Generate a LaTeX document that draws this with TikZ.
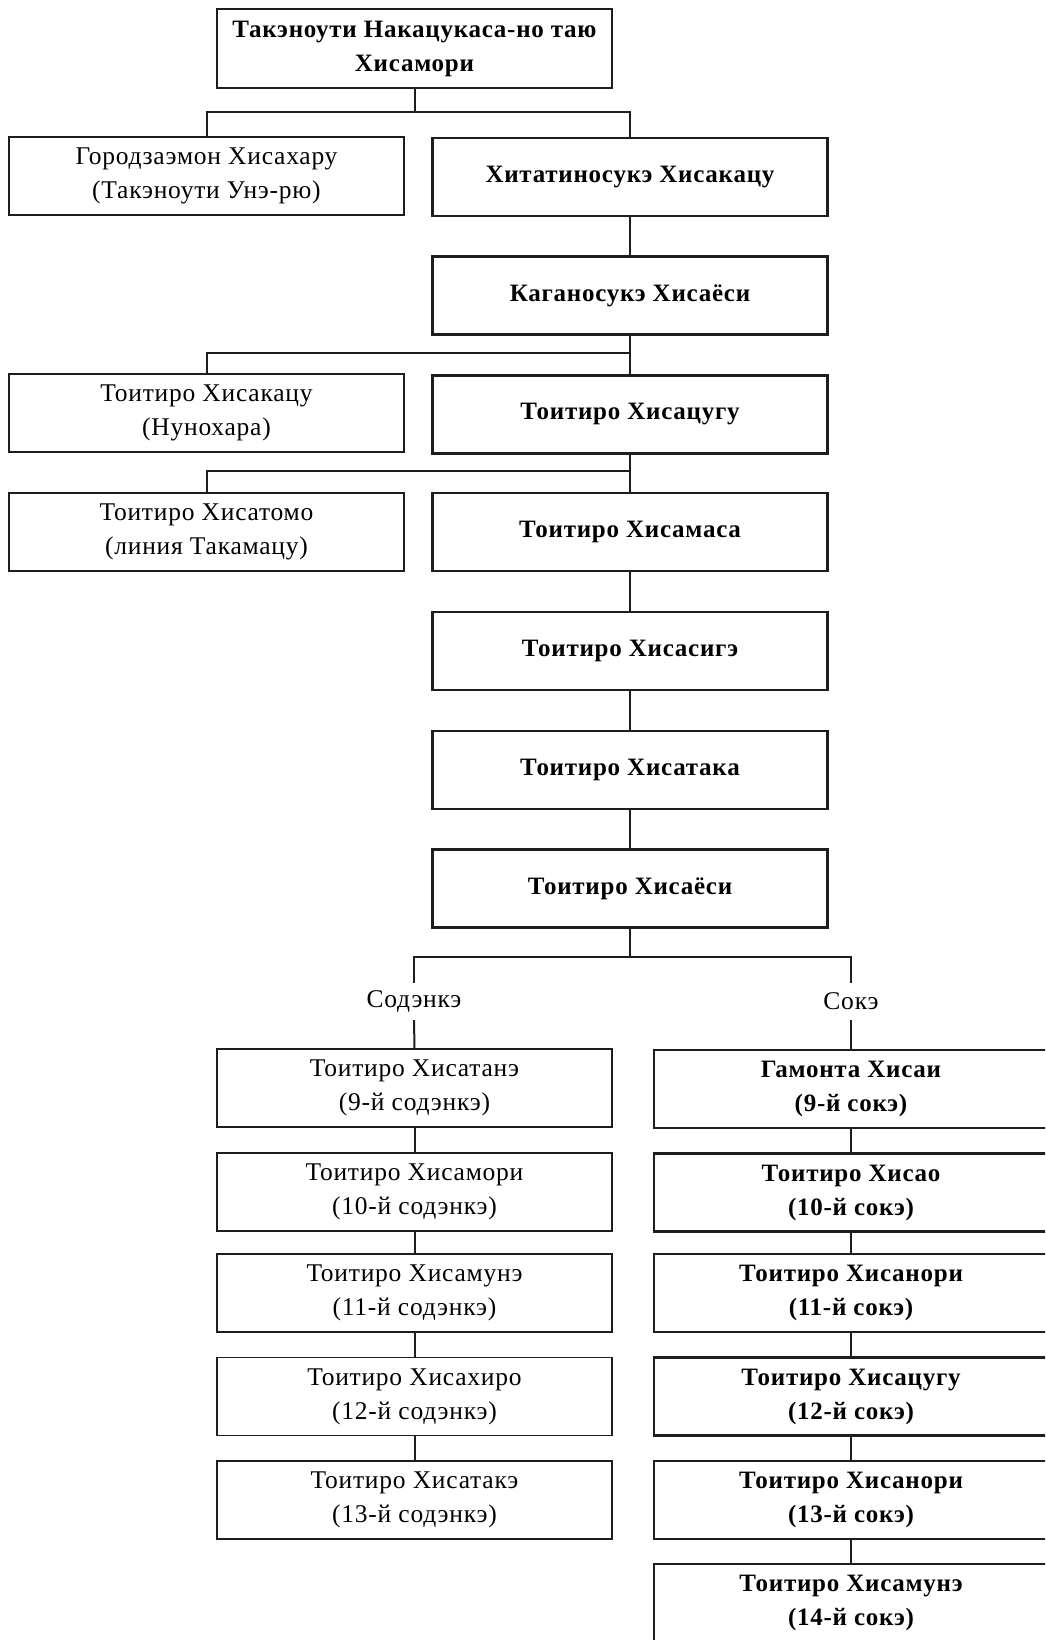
\documentclass[tikz,border=0pt]{standalone}
\usepackage{fontspec}
\setmainfont{Liberation Serif}
\newfontfamily\spacedfont[LetterSpace=3]{Liberation Serif}
\definecolor{linecol}{HTML}{1E1E1E}
\begin{document}
\begin{tikzpicture}[x=1pt,y=-1pt,
  every node/.style={inner sep=0pt, align=center},
  boldbox/.style={draw=linecol, line width=2.6pt, fill=white, minimum width=395pt, minimum height=78pt, font=\spacedfont\fontsize{25}{34}\selectfont\bfseries},
  thinbox/.style={draw=linecol, line width=1.7pt, fill=white, minimum width=395pt, minimum height=78pt, font=\spacedfont\fontsize{25.5}{34}\selectfont},
  conn/.style={draw=linecol, line width=2pt},
  lbl/.style={font=\spacedfont\fontsize{25.5}{30}\selectfont, minimum height=37pt}]
\useasboundingbox (0,0) rectangle (1045,1640);
\clip (0,0) rectangle (1045,1640);
\fill[white] (0,0) rectangle (1045,1640);

% upper part
\node[boldbox, minimum height=79pt] (top) at (414.5,48.5) {Такэноути Накацукаса-но таю\\Хисамори};
\node[thinbox] (gor) at (206.5,176) {Городзаэмон Хисахару\\(Такэноути Унэ-рю)};
\node[boldbox] (hit) at (630,177) {Хитатиносукэ Хисакацу};
\node[boldbox] (kag) at (630,295.5) {Каганосукэ Хисаёси};
\node[thinbox] (nun) at (206.5,413) {Тоитиро Хисакацу\\(Нунохара)};
\node[boldbox] (tsg) at (630,414.5) {Тоитиро Хисацугу};
\node[thinbox] (tom) at (206.5,532) {Тоитиро Хисатомо\\(линия Такамацу)};
\node[boldbox] (mas) at (630,532) {Тоитиро Хисамаса};
\node[boldbox] (sig) at (630,651) {Тоитиро Хисасигэ};
\node[boldbox] (tak) at (630,770) {Тоитиро Хисатака};
\node[boldbox] (yos) at (630,888.5) {Тоитиро Хисаёси};

% branch labels
\node[lbl] (sod) at (414,1001.5) {Содэнкэ};
\node[lbl] (sok) at (851,1001.5) {Сокэ};

% lower left column
\node[thinbox] (l9) at (414.5,1088) {Тоитиро Хисатанэ\\(9-й содэнкэ)};
\node[thinbox] (l10) at (414.5,1192) {Тоитиро Хисамори\\(10-й содэнкэ)};
\node[thinbox] (l11) at (414.5,1293) {Тоитиро Хисамунэ\\(11-й содэнкэ)};
\node[thinbox] (l12) at (414.5,1396.5) {Тоитиро Хисахиро\\(12-й содэнкэ)};
\node[thinbox] (l13) at (414.5,1500) {Тоитиро Хисатакэ\\(13-й содэнкэ)};

% lower right column
\node[boldbox, minimum width=394pt] (r9) at (851,1089) {Гамонта Хисаи\\(9-й сокэ)};
\node[boldbox, minimum width=394pt] (r10) at (851,1192.5) {Тоитиро Хисао\\(10-й сокэ)};
\node[boldbox, minimum width=394pt] (r11) at (851,1293) {Тоитиро Хисанори\\(11-й сокэ)};
\node[boldbox, minimum width=394pt] (r12) at (851,1396.5) {Тоитиро Хисацугу\\(12-й сокэ)};
\node[boldbox, minimum width=394pt] (r13) at (851,1500) {Тоитиро Хисанори\\(13-й сокэ)};
\node[boldbox, minimum width=394pt] (r14) at (851,1603) {Тоитиро Хисамунэ\\(14-й сокэ)};

% bus levels
\coordinate (b1) at (0,112);
\coordinate (b2) at (0,353);
\coordinate (b3) at (0,471);
\coordinate (b4) at (0,957);

% connectors
\draw[conn] (top.south) -- (top.south |- b1);
\draw[conn] (gor.north) -- (gor.north |- b1) -- (hit.north |- b1) -- (hit.north);
\draw[conn] (hit.south) -- (kag.north);
\draw[conn] (kag.south) -- (tsg.north);
\draw[conn] (nun.north) -- (nun.north |- b2) -- (kag.south |- b2);
\draw[conn] (tsg.south) -- (mas.north);
\draw[conn] (tom.north) -- (tom.north |- b3) -- (tsg.south |- b3);
\draw[conn] (mas.south) -- (sig.north);
\draw[conn] (sig.south) -- (tak.north);
\draw[conn] (tak.south) -- (yos.north);
\draw[conn] (yos.south) -- (yos.south |- b4);
\draw[conn] (sod.north) -- (sod.north |- b4) -- (sok.north |- b4) -- (sok.north);
\draw[conn] (sod.south) -- (l9.north);
\draw[conn] (sok.south) -- (r9.north);
\draw[conn] (l9.south) -- (l10.north);
\draw[conn] (l10.south) -- (l11.north);
\draw[conn] (l11.south) -- (l12.north);
\draw[conn] (l12.south) -- (l13.north);
\draw[conn] (r9.south) -- (r10.north);
\draw[conn] (r10.south) -- (r11.north);
\draw[conn] (r11.south) -- (r12.north);
\draw[conn] (r12.south) -- (r13.north);
\draw[conn] (r13.south) -- (r14.north);
\end{tikzpicture}
\end{document}
